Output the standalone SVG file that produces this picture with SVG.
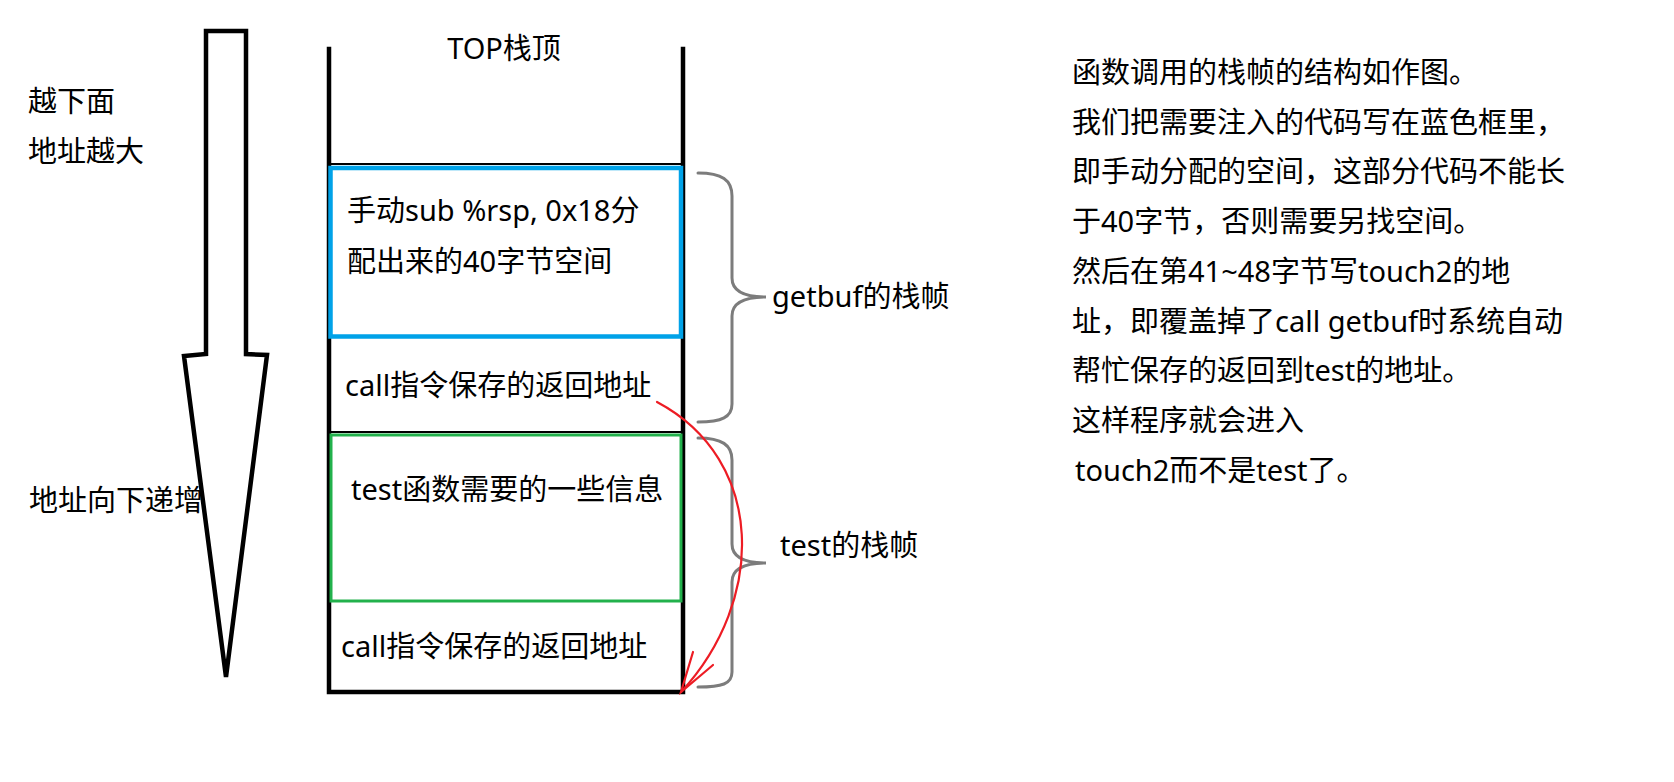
<svg xmlns="http://www.w3.org/2000/svg" width="1674" height="782" viewBox="0 0 1674 782">
<style>
text{font-family:"Noto Sans","Noto Sans CJK SC",sans-serif;font-size:29px;fill:#000}
.wall{stroke:#000;stroke-width:4.5;fill:none;stroke-linecap:square}
.brace{stroke:#7c7c7c;stroke-width:3;fill:none;stroke-linecap:round}
.red{stroke:#ed1c24;stroke-width:2.2;fill:none;stroke-linecap:round}
</style>
<rect width="1674" height="782" fill="#fff"/>
<g id="left-labels">
<text x="28" y="112">越下面</text>
<text x="28" y="162">地址越大</text>
<text x="29" y="511">地址向下递增</text>
</g>
<g id="direction-arrow">
<path d="M206,31 L246,31 L246,354 L267,355 L226,677 L184,356 L206,354 Z" fill="none" stroke="#000" stroke-width="4.5" stroke-linejoin="miter"/>
</g>
<g id="stack">
<path class="wall" d="M329,49 L329,692 L683,692 L683,49"/>
<line x1="329" y1="164" x2="683" y2="164" stroke="#000" stroke-width="2"/>
<line x1="329" y1="432" x2="683" y2="432" stroke="#000" stroke-width="2"/>
<text x="504" y="59" text-anchor="middle">TOP栈顶</text>
</g>
<g id="buffer">
<rect x="330.5" y="168" width="350.5" height="168.5" fill="none" stroke="#00a2e8" stroke-width="4.5"/>
<text x="347" y="221">手动sub %rsp, 0x18分</text>
<text x="347" y="272">配出来的40字节空间</text>
</g>
<g id="getbuf-ret">
<text x="345" y="396">call指令保存的返回地址</text>
</g>
<g id="test-info">
<rect x="331" y="435" width="350" height="166" fill="none" stroke="#22b14c" stroke-width="3"/>
<text x="351" y="500">test函数需要的一些信息</text>
</g>
<g id="test-ret">
<text x="341" y="657">call指令保存的返回地址</text>
</g>
<g id="frame-labels">
<text x="772" y="307">getbuf的栈帧</text>
<text x="780" y="556">test的栈帧</text>
</g>
<g id="connectors">
<path class="brace" d="M698,173 C722,173 732,180 732,196 L732,278 C732,291 744,297 766,297 C744,297 732,303 732,316 L732,404 C732,417 722,422 698,422"/>
<path class="brace" d="M698,438 C722,438 732,445 732,460 L732,544 C732,557 744,563 766,563 C744,563 732,569 732,582 L732,672 C732,684 722,687 698,687"/>
<path class="red" d="M657,402 C766,460 766,600 681,692"/>
<path class="red" d="M693,652 L681,692 L713,665"/>
</g>
<g id="explanation">
<text x="1072" y="83">函数调用的栈帧的结构如作图。</text>
<text x="1072" y="133">我们把需要注入的代码写在蓝色框里，</text>
<text x="1072" y="182">即手动分配的空间，这部分代码不能长</text>
<text x="1072" y="232">于40字节，否则需要另找空间。</text>
<text x="1072" y="282">然后在第41~48字节写touch2的地</text>
<text x="1072" y="332">址，即覆盖掉了call getbuf时系统自动</text>
<text x="1072" y="381">帮忙保存的返回到test的地址。</text>
<text x="1072" y="431">这样程序就会进入</text>
<text x="1075" y="481">touch2而不是test了。</text>
</g>
</svg>
